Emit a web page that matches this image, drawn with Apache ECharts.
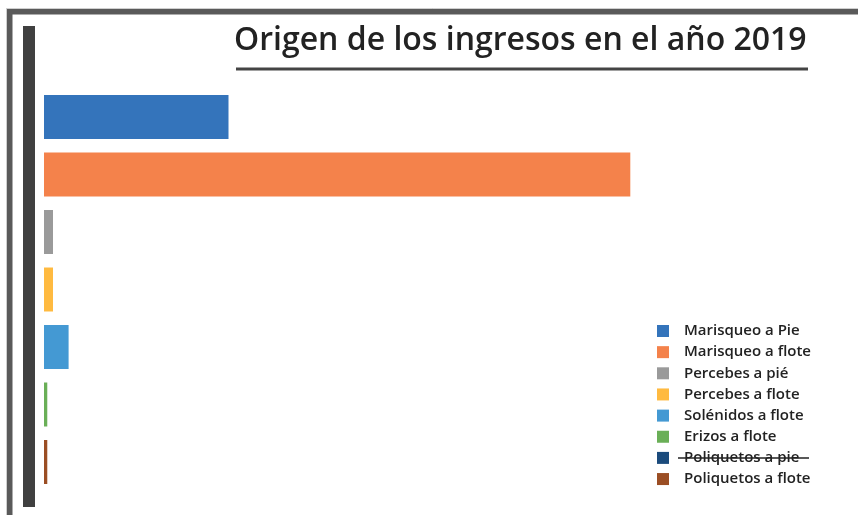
<!DOCTYPE html>
<html>
<head>
<meta charset="utf-8">
<script src="https://cdn.jsdelivr.net/npm/echarts@6/dist/echarts.min.js"></script>
<style>
html,body{margin:0;padding:0;background:#fff;}
#chart{width:858px;height:515px;}
</style>
</head>
<body>
<div id="chart"></div>
<script>
// Data (percentage of 2019 income per activity)
const seriesNames = ['Marisqueo a Pie','Marisqueo a flote','Percebes a pié','Percebes a flote','Solénidos a flote','Erizos a flote','Poliquetos a pie','Poliquetos a flote'];
const seriesValues = [22.5, 71.5, 1.1, 1.1, 3.0, 0.4, null, 0.4];
const seriesColors = ['#3474BB','#F4824B','#9A9A9A','#FFBA40','#4499D3','#6AAF57','#1B4B7C','#9B4E24'];
const titleText = 'Origen de los ingresos en el año 2019';

const categories = seriesNames.filter((n, i) => seriesValues[i] !== null);

const series = seriesNames.map((name, i) => ({
  name: name,
  type: 'bar',
  stack: 'total',
  barWidth: '76.5%',
  itemStyle: { color: seriesColors[i] },
  data: categories.map(c => (c === name ? seriesValues[i] : '-'))
}));

const chart = echarts.init(document.getElementById('chart'), null, { renderer: 'canvas' });
chart.setOption({
  animation: false,
  backgroundColor: '#ffffff',
  title: {
    text: titleText,
    left: 234,
    top: 25,
    padding: 0,
    textStyle: { fontFamily: 'Open Sans', fontWeight: 600, fontSize: 32, color: '#222' }
  },
  grid: { left: 44, top: 88.25, height: 402.5, width: 656 },
  xAxis: {
    type: 'value', min: 0, max: 80,
    show: false
  },
  yAxis: {
    type: 'category', data: categories, inverse: true,
    axisLine: { show: false }, axisTick: { show: false }, axisLabel: { show: false }
  },
  legend: {
    orient: 'vertical',
    left: 657, top: 323,
    padding: 0,
    itemWidth: 12, itemHeight: 12, itemGap: 5.15,
    icon: 'rect',
    data: seriesNames,
    textStyle: { fontFamily: 'Open Sans', fontWeight: 600, fontSize: 15, color: '#222', lineHeight: 16, padding: [0, 0, 0, 10] }
  },
  graphic: [
    { type: 'rect', silent: true, shape: { x: 9.5, y: 11.5, width: 900, height: 600 }, style: { fill: null, stroke: '#5a5a5a', lineWidth: 6 } },
    { type: 'rect', silent: true, shape: { x: 6.5, y: 8.5, width: 900, height: 600 }, style: { fill: null, stroke: '#cfcfcf', lineWidth: 1 } },
    { type: 'rect', silent: true, shape: { x: 23, y: 26, width: 12, height: 481 }, style: { fill: '#404040' } },
    { type: 'line', silent: true, shape: { x1: 236, y1: 69, x2: 808, y2: 69 }, style: { stroke: '#444', lineWidth: 3 } },
    { type: 'line', silent: true, shape: { x1: 678, y1: 458, x2: 809, y2: 458 }, style: { stroke: '#222', lineWidth: 1.5 } }
  ],
  series: series
});
</script>
</body>
</html>
